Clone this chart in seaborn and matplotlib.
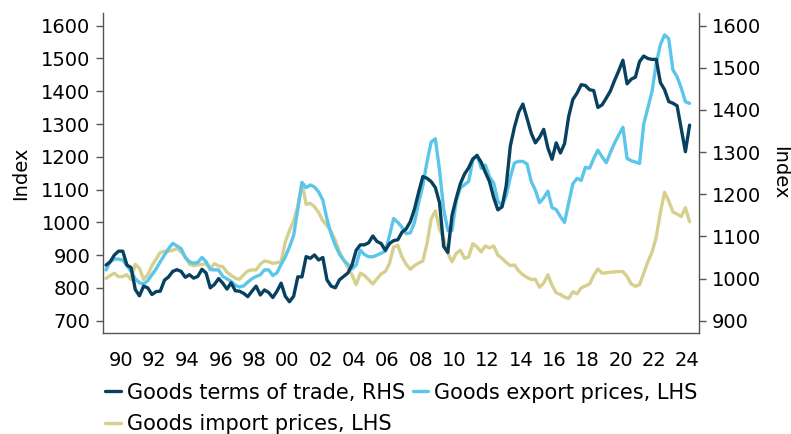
import numpy as np
import pandas as pd
import matplotlib
matplotlib.use("Agg")
import matplotlib.pyplot as plt
import seaborn as sns

# ---------------- data (quarterly, 1989Q1 - 2024Q1) ----------------
quarters = pd.period_range("1989Q1", "2024Q1", freq="Q")

tot_rhs = [
    1032, 1040, 1056, 1065, 1065, 1032, 1026, 974, 959, 982, 978, 962,
    969, 970, 996, 1004, 1017, 1021, 1017, 1003, 1009, 1001, 1005, 1022,
    1013, 978, 986, 1000, 989, 975, 990, 971, 970, 965, 957, 970,
    982, 961, 973, 967, 955, 970, 989, 958, 945, 958, 1004, 1004,
    1052, 1048, 1056, 1044, 1050, 997, 982, 978, 997, 1005, 1013, 1032,
    1067, 1080, 1080, 1085, 1101, 1088, 1083, 1067, 1083, 1090, 1092, 1110,
    1118, 1135, 1165, 1205, 1242, 1238, 1230, 1216, 1180, 1076, 1062, 1150,
    1190, 1225, 1248, 1263, 1284, 1292, 1276, 1252, 1230, 1192, 1163, 1170,
    1220, 1315, 1360, 1395, 1414, 1380, 1345, 1322, 1335, 1354, 1310, 1283,
    1322, 1298, 1320, 1385, 1425, 1440, 1460, 1458, 1448, 1446, 1406, 1412,
    1428, 1445, 1470, 1493, 1518, 1462, 1473, 1478, 1515, 1528, 1522, 1520,
    1520, 1465, 1448, 1420, 1416, 1410, 1355, 1301, 1364,
]

export_lhs = [
    855, 880, 888, 888, 885, 868, 850, 828, 816, 812, 822, 840,
    858, 880, 900, 920, 936, 928, 920, 893, 880, 875, 878, 893,
    880, 856, 855, 855, 835, 828, 820, 808, 803, 806, 818, 828,
    835, 840, 855, 855, 838, 846, 872, 895, 925, 960, 1040, 1122,
    1106, 1114, 1108, 1093, 1068, 1010, 965, 930, 903, 885, 872, 858,
    870, 915, 902, 895, 895, 900, 906, 912, 960, 1012, 1000, 985,
    966, 968, 1000, 1060, 1112, 1185, 1245, 1255, 1160, 1040, 975, 975,
    1065, 1105, 1115, 1125, 1190, 1205, 1165, 1175, 1139, 1120, 1065, 1050,
    1082, 1138, 1182, 1186, 1186, 1178, 1125, 1098, 1060, 1075, 1095, 1045,
    1039, 1018, 1000, 1060, 1118, 1134, 1128, 1168, 1165, 1195, 1220, 1200,
    1182, 1213, 1242, 1267, 1290, 1195, 1188, 1184, 1180, 1300, 1350, 1400,
    1485, 1542, 1572, 1560, 1465, 1444, 1410, 1368, 1363,
]

import_lhs = [
    829, 838, 845, 834, 835, 840, 826, 872, 860, 826, 840, 868,
    888, 908, 912, 912, 915, 920, 910, 895, 872, 868, 870, 872,
    873, 860, 874, 867, 865, 848, 838, 830, 826, 840, 852, 855,
    855, 873, 882, 880, 875, 877, 880, 940, 975, 1005, 1050, 1120,
    1055, 1058, 1048, 1030, 1005, 990, 972, 945, 910, 885, 862, 840,
    810, 845, 838, 825, 812, 828, 843, 850, 875, 925, 930, 895,
    872, 857, 868, 876, 882, 935, 1010, 1035, 980, 950, 905, 880,
    905, 915, 890, 895, 935, 925, 910, 928, 922, 928, 900, 890,
    878, 868, 870, 852, 840, 832, 826, 826, 802, 815, 840, 808,
    785, 780, 772, 768, 788, 782, 800, 806, 812, 838, 858, 845,
    846, 848, 849, 850, 850, 835, 812, 805, 810, 845, 880, 910,
    955, 1030, 1092, 1065, 1032, 1025, 1018, 1045, 1002,
]

series_names = ["Goods terms of trade, RHS", "Goods export prices, LHS",
                "Goods import prices, LHS"]
tick_years = list(range(1990, 2025, 2))
tick_labels = ["90", "92", "94", "96", "98", "00", "02", "04", "06", "08",
               "10", "12", "14", "16", "18", "20", "22", "24"]
left_ticks = [700, 800, 900, 1000, 1100, 1200, 1300, 1400, 1500, 1600]
right_ticks = [900, 1000, 1100, 1200, 1300, 1400, 1500, 1600]

# ---------------- frame ----------------
t = quarters.year + (quarters.quarter - 1) / 4 + 0.125
df = pd.DataFrame({"t": t, "tot": tot_rhs, "exp": export_lhs, "imp": import_lhs})

C_NAVY = "#08415f"
C_BLUE = "#5bc5ea"
C_BEIGE = "#d6cf8e"
C_SPINE = "#555555"

sns.set_style("white")
plt.rcParams["font.family"] = ["DejaVu Sans"]
plt.rcParams["text.color"] = "black"
plt.rcParams["axes.labelcolor"] = "black"
plt.rcParams["xtick.color"] = "black"
plt.rcParams["ytick.color"] = "black"
FS = 14
FS_LEG = 15

fig = plt.figure(figsize=(7.91, 4.34), dpi=100)
ax = fig.add_axes([103 / 791, 1 - 333 / 434, (699 - 103) / 791, 320 / 434])
ax2 = ax.twinx()

sns.lineplot(data=df, x="t", y="imp", ax=ax, color=C_BEIGE, linewidth=2.4,
             label=series_names[2])
sns.lineplot(data=df, x="t", y="exp", ax=ax, color=C_BLUE, linewidth=2.4,
             label=series_names[1])
sns.lineplot(data=df, x="t", y="tot", ax=ax2, color=C_NAVY, linewidth=2.4,
             label=series_names[0])

ax.set_xlim(1988.94, 2024.69)
ax.set_ylim(662.5, 1638.7)
ax2.set_ylim(870.8, 1630.1)

ax.set_xticks(tick_years)
ax.set_xticklabels(tick_labels)
ax.set_yticks(left_ticks)
ax2.set_yticks(right_ticks)

ax.set_xlabel("")
ax.set_ylabel("Index", fontsize=FS, labelpad=8)
ax2.set_ylabel("Index", fontsize=FS, rotation=270, labelpad=20)

for a in (ax, ax2):
    a.tick_params(axis="both", labelsize=FS, direction="out", length=5,
                  width=1, color=C_SPINE, labelcolor="black", pad=4)
    a.spines["top"].set_visible(False)
    for side in ("left", "right", "bottom"):
        a.spines[side].set_color(C_SPINE)
        a.spines[side].set_linewidth(1)
ax.spines["right"].set_visible(False)
ax2.spines["left"].set_visible(False)
ax2.spines["bottom"].set_visible(False)
ax.tick_params(axis="x", pad=8)

h1, l1 = ax.get_legend_handles_labels()
h2, l2 = ax2.get_legend_handles_labels()
ax.get_legend().remove()
ax2.get_legend().remove()
handles = {l: h for h, l in zip(h1 + h2, l1 + l2)}
# column-major fill: col 1 = ToT, import ; col 2 = export
order = [series_names[0], series_names[2], series_names[1]]
fig.legend([handles[n] for n in order], order, loc="upper left",
           bbox_to_anchor=(0.133, 0.118), ncol=2, frameon=False,
           fontsize=FS_LEG, handlelength=0.75, handletextpad=0.3,
           columnspacing=0.35, labelspacing=0.55, borderaxespad=0,
           borderpad=0)

fig.savefig("out.png", dpi=100)
